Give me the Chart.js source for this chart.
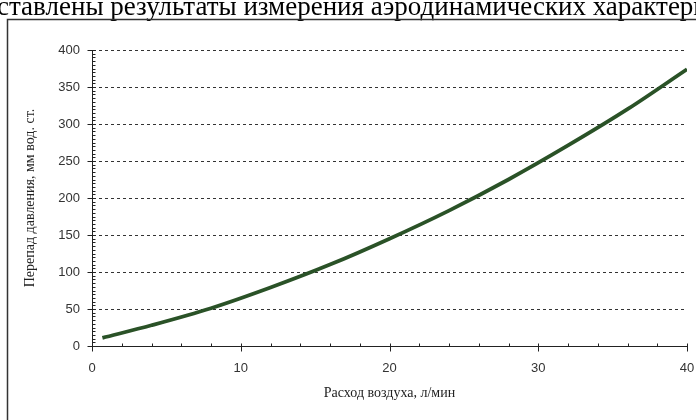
<!DOCTYPE html>
<html>
<head>
<meta charset="utf-8">
<script src="https://cdn.jsdelivr.net/npm/chart.js@4/dist/chart.umd.min.js"></script>
<style>
  html, body { margin: 0; padding: 0; background: #fff; }
  #wrap { position: relative; width: 696px; height: 420px; }
</style>
</head>
<body>
<div id="wrap"><canvas id="c" width="696" height="420"></canvas></div>
<script>
// Air flow rate, l/min
const flow = [0.7, 4, 8, 12, 16, 20, 24, 28, 32, 36, 40];
// Pressure drop, mm H2O
const pressureDrop = [11, 28, 51, 79, 110, 145, 183, 225, 271, 320, 374];
const xTickValues = [0, 10, 20, 30, 40];
const yTickValues = [0, 50, 100, 150, 200, 250, 300, 350, 400];

const headerText = 'ставлены результаты измерения аэродинамических характеристик';
const xTitle = 'Расход воздуха, л/мин';
const yTitle = 'Перепад давления, мм вод. ст.';

// Page background, the running text line above the figure and the figure frame
const framePlugin = {
  id: 'frame',
  beforeDraw(chart) {
    const ctx = chart.ctx;
    ctx.save();
    ctx.fillStyle = '#fff';
    ctx.fillRect(0, 0, chart.width, chart.height);
    ctx.fillStyle = '#000';
    ctx.font = '27px "Liberation Serif"';
    ctx.textBaseline = 'alphabetic';
    ctx.fillText(headerText, -3, 15);
    ctx.strokeStyle = '#333';
    ctx.lineWidth = 1.5;
    ctx.beginPath();
    ctx.moveTo(7.5, chart.height);
    ctx.lineTo(7.5, 19.5);
    ctx.lineTo(chart.width, 19.5);
    ctx.stroke();
    ctx.restore();
  }
};

// Major and minor tick marks on both axes
const tickPlugin = {
  id: 'axisTicks',
  afterDraw(chart) {
    const ctx = chart.ctx;
    const xs = chart.scales.x, ys = chart.scales.y;
    const x0 = Math.round(xs.getPixelForValue(0)) + 0.5;
    const y0 = Math.round(ys.getPixelForValue(0)) + 0.5;
    ctx.save();
    ctx.strokeStyle = '#222';
    ctx.lineWidth = 1;
    ctx.beginPath();
    for (let v = 0; v <= 40; v += 2) {
      const px = Math.round(xs.getPixelForValue(v)) + 0.5;
      const major = xTickValues.includes(v);
      ctx.moveTo(px, y0 - 3);
      ctx.lineTo(px, major ? y0 + 5 : y0);
    }
    for (let v = 0; v <= 400; v += 5) {
      const py = Math.round(ys.getPixelForValue(v)) + 0.5;
      const major = yTickValues.includes(v);
      ctx.moveTo(major ? x0 - 5 : x0, py);
      ctx.lineTo(x0 + 3, py);
    }
    ctx.stroke();
    ctx.restore();
  }
};

new Chart(document.getElementById('c'), {
  type: 'line',
  data: {
    datasets: [{
      data: flow.map((f, i) => ({ x: f, y: pressureDrop[i] })),
      borderColor: '#2a5227',
      borderWidth: 3.8,
      pointRadius: 0,
      cubicInterpolationMode: 'monotone',
      fill: false
    }]
  },
  options: {
    responsive: false,
    animation: false,
    devicePixelRatio: 1,
    layout: { padding: { left: 14, right: 9, top: 50, bottom: 0 } },
    plugins: { legend: { display: false }, tooltip: { enabled: false } },
    scales: {
      x: {
        type: 'linear',
        min: 0, max: 40,
        afterBuildTicks(s) { s.ticks = xTickValues.map(v => ({ value: v })); },
        afterFit(s) { s.height = 74; s.paddingLeft = 0; s.paddingRight = 0; },
        ticks: { color: '#333', font: { family: 'Liberation Sans', size: 13 }, padding: 7, maxRotation: 0 },
        grid: { display: false },
        border: { display: true, color: '#222', width: 1 },
        title: {
          display: true, text: xTitle, color: '#222',
          font: { family: 'Liberation Serif', size: 14 },
          padding: { top: 4, bottom: 18 }
        }
      },
      y: {
        type: 'linear',
        min: 0, max: 400,
        afterBuildTicks(s) { s.ticks = yTickValues.map(v => ({ value: v })); },
        afterFit(s) { s.width = 78; s.paddingTop = 0; s.paddingBottom = 0; },
        ticks: { color: '#333', font: { family: 'Liberation Sans', size: 13 }, padding: 12 },
        grid: { color: '#333', lineWidth: 1, drawTicks: false },
        border: { display: true, color: '#222', width: 1, dash: [3, 3] },
        title: {
          display: true, text: yTitle, color: '#222',
          font: { family: 'Liberation Serif', size: 14 },
          padding: { top: 8, bottom: 4 }
        }
      }
    }
  },
  plugins: [framePlugin, tickPlugin]
});
</script>
</body>
</html>
